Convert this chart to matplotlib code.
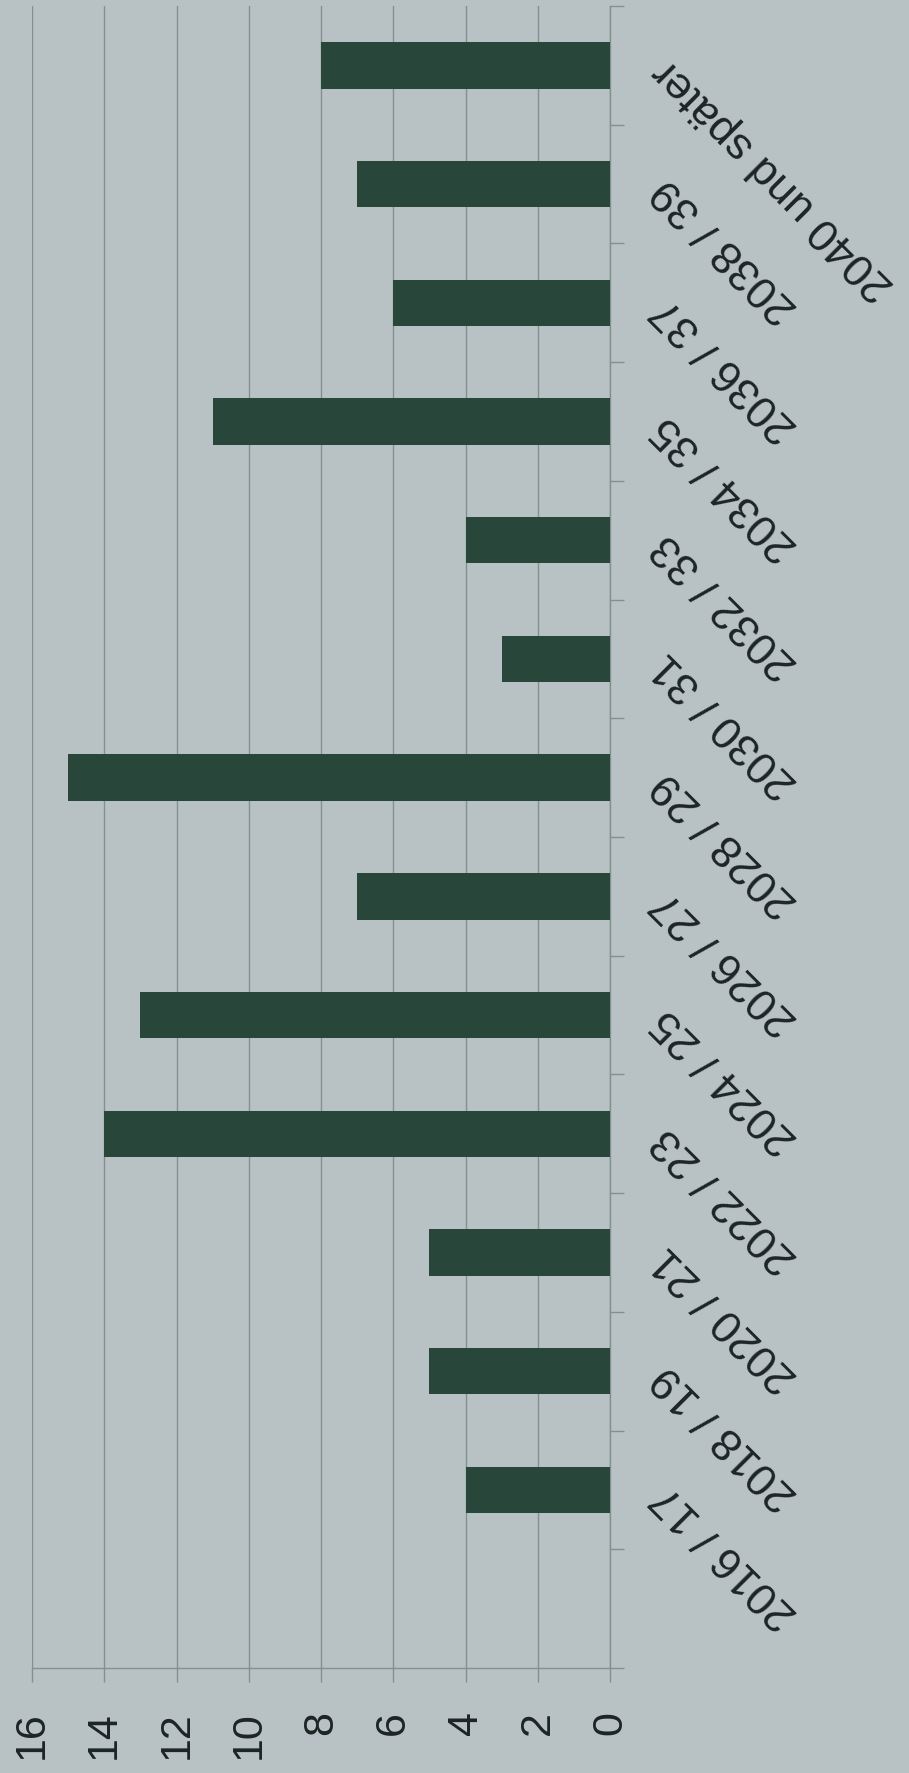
import matplotlib
matplotlib.use("Agg")
import matplotlib.pyplot as plt
from matplotlib.ticker import FixedLocator

# Daten (Anzahl je Zeitraum)
kategorien = ["2016 / 17", "2018 / 19", "2020 / 21", "2022 / 23", "2024 / 25",
              "2026 / 27", "2028 / 29", "2030 / 31", "2032 / 33", "2034 / 35",
              "2036 / 37", "2038 / 39", "2040 und später"]
werte = [4, 5, 5, 14, 13, 7, 15, 3, 4, 11, 6, 7, 8]
wert_ticks = [0, 2, 4, 6, 8, 10, 12, 14, 16]

hintergrund = "#b8c2c4"
balken_farbe = "#28463a"
gitter_farbe = "#84908f"
text_farbe = "#1c2424"

plt.rcParams['font.family'] = ['Liberation Sans', 'DejaVu Sans']

fig = plt.figure(figsize=(9.09, 17.73), dpi=100, facecolor=hintergrund)
ax = fig.add_axes([32 / 909, 1 - 1668 / 1773, (610 - 32) / 909, (1668 - 6) / 1773])
ax.set_facecolor(hintergrund)

# erste Position (0) bleibt leer wie im Original
pos = list(range(1, len(kategorien) + 1))
ax.barh(pos, werte, height=0.39, color=balken_farbe, zorder=3)

ax.set_xlim(16, 0)
ax.set_ylim(-0.5, len(kategorien) + 0.5)

ax.set_xticks(wert_ticks)
ax.set_xticklabels([str(v) for v in wert_ticks], rotation=90, fontsize=31, color=text_farbe)
ax.tick_params(axis='x', direction='out', length=10, width=1.0, color=gitter_farbe, pad=21)
ax.grid(axis='x', color=gitter_farbe, linewidth=1.0, zorder=1)

ax.yaxis.tick_right()
ax.set_yticks(pos)
ax.set_yticklabels(kategorien, fontsize=32, color=text_farbe, rotation=135,
                   rotation_mode='anchor', ha='right', va='center')
ax.yaxis.set_minor_locator(FixedLocator([p - 0.5 for p in range(0, len(kategorien) + 2)]))
ax.tick_params(axis='y', which='major', length=0, pad=36)
ax.tick_params(axis='y', which='minor', direction='out', length=10, width=1.0, color=gitter_farbe)

for s in ['top', 'left']:
    ax.spines[s].set_visible(False)
ax.spines['right'].set_color(gitter_farbe)
ax.spines['right'].set_linewidth(1.0)
ax.spines['bottom'].set_color(gitter_farbe)
ax.spines['bottom'].set_linewidth(1.0)

fig.savefig("out.png", dpi=100, facecolor=hintergrund)
